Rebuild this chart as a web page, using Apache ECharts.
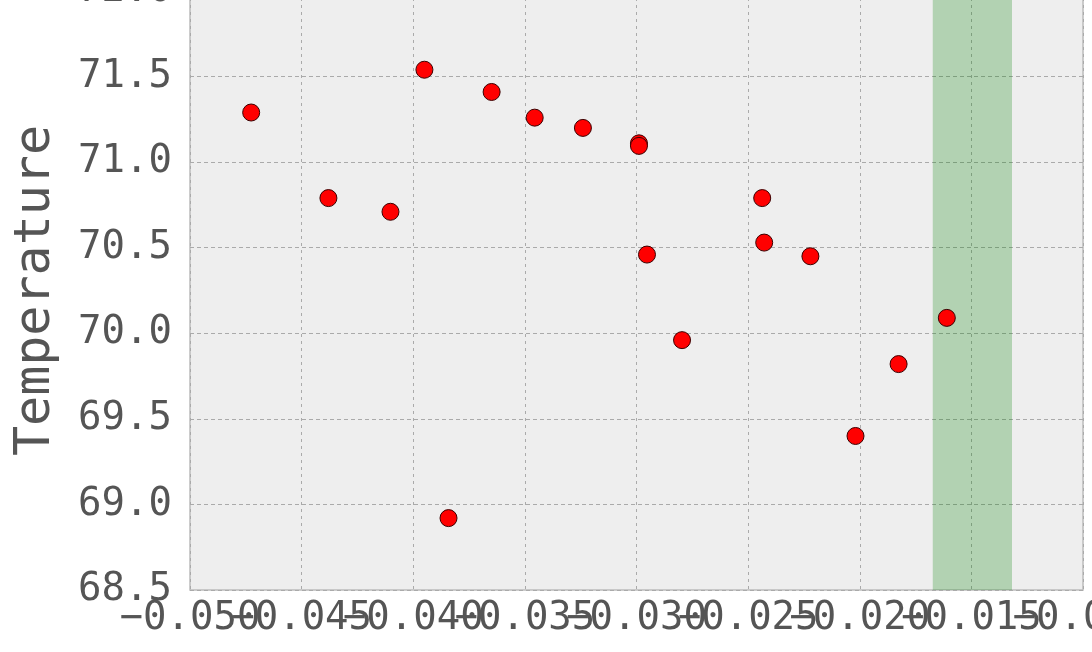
<!DOCTYPE html>
<html>
<head>
<meta charset="utf-8">
<script src="https://cdn.jsdelivr.net/npm/echarts@6/dist/echarts.min.js"></script>
<style>
html,body{margin:0;padding:0;background:#fff;}
#chart{width:1092px;height:652px;}
</style>
</head>
<body>
<div id="chart"></div>
<script>
// Data
const xValues = [-0.04726, -0.04380, -0.04102, -0.03950, -0.03842, -0.03649, -0.03456, -0.03240, -0.02989, -0.02989, -0.02953, -0.02796, -0.02437, -0.02428, -0.02221, -0.02019, -0.01826, -0.01610];
const yValues = [71.29, 70.79, 70.71, 71.54, 68.92, 71.41, 71.26, 71.20, 71.11, 71.095, 70.46, 69.96, 70.79, 70.53, 70.45, 69.40, 69.82, 70.09];
const bandRange = [-0.01673, -0.01318];
const xTicks = { min: -0.050, max: -0.010, step: 0.005 };
const yTicks = { min: 68.5, max: 72.0, step: 0.5 };
// tick labels that the overlap logic next to min/max would otherwise drop
const xExtraTicks = [-0.045, -0.015];
const yLabel = 'Temperature';

const points = xValues.map((x, i) => [x, yValues[i]]);
const fontFam = '"DejaVu Sans Mono", monospace';
const fmtX = v => (v < 0 ? '\u2212' : '') + Math.abs(v).toFixed(3);
const isExtra = v => xExtraTicks.some(t => Math.abs(t - v) < 1e-9);

const labelStyle = {
  show: true, hideOverlap: false, showMinLabel: true, showMaxLabel: true,
  fontFamily: fontFam, fontSize: 39, color: '#555555', margin: 9
};

const chart = echarts.init(document.getElementById('chart'), null, {renderer: 'canvas'});
chart.setOption({
  animation: false,
  backgroundColor: '#ffffff',
  grid: {
    left: 190, right: 9, top: -9, bottom: 62,
    containLabel: false, outerBoundsMode: 'none',
    show: true, backgroundColor: '#eeeeee', borderColor: '#bcbcbc', borderWidth: 1.5
  },
  xAxis: [
    {
      type: 'value', position: 'bottom',
      min: xTicks.min, max: xTicks.max, interval: xTicks.step,
      axisLine: {show: false},
      axisTick: {show: false},
      splitLine: {show: true, lineStyle: {color: '#aaaaaa', width: 1, type: [3, 4]}},
      axisLabel: Object.assign({}, labelStyle, {formatter: fmtX})
    },
    {
      type: 'value', position: 'bottom',
      min: xTicks.min, max: xTicks.max, interval: xTicks.step,
      axisLine: {show: false},
      axisTick: {show: false},
      splitLine: {show: false},
      axisLabel: Object.assign({}, labelStyle, {
        showMinLabel: false, showMaxLabel: false,
        formatter: v => isExtra(v) ? fmtX(v) : ''
      })
    }
  ],
  yAxis: {
    type: 'value',
    min: yTicks.min, max: yTicks.max, interval: yTicks.step,
    name: yLabel, nameLocation: 'middle', nameRotate: 90, nameGap: 129,
    nameTextStyle: {fontFamily: fontFam, fontSize: 50, color: '#555555'},
    axisLine: {show: false},
    axisTick: {show: false},
    splitLine: {show: true, lineStyle: {color: '#aaaaaa', width: 1, type: [4, 3]}},
    axisLabel: {
      show: true, hideOverlap: false, showMinLabel: true, showMaxLabel: true,
      fontFamily: fontFam, fontSize: 39, color: '#555555', margin: 18,
      formatter: v => v.toFixed(1)
    }
  },
  series: [
    {
      type: 'scatter',
      xAxisIndex: 0,
      data: points,
      symbol: 'circle',
      symbolSize: 17,
      itemStyle: {color: '#ff0000', borderColor: '#3a0000', borderWidth: 1, opacity: 1},
      z: 5,
      markArea: {
        silent: true,
        itemStyle: {color: 'rgba(0,128,0,0.25)'},
        data: [[{xAxis: bandRange[0]}, {xAxis: bandRange[1]}]]
      }
    }
  ]
});
</script>
</body>
</html>
